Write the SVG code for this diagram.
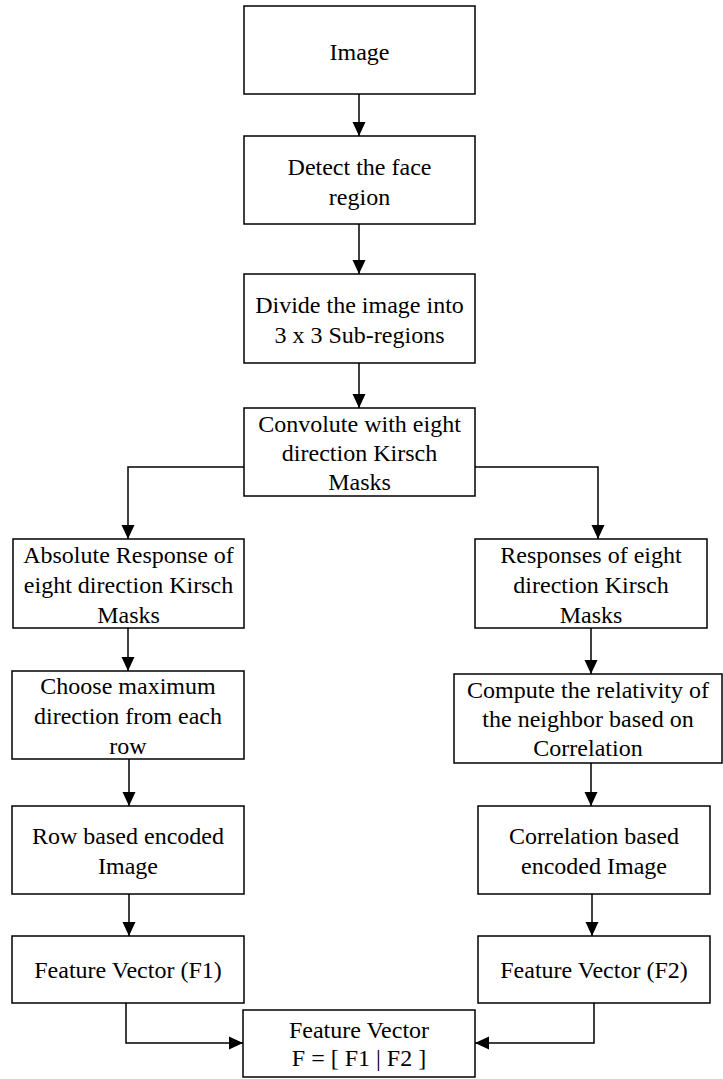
<svg xmlns="http://www.w3.org/2000/svg" width="723" height="1079" viewBox="0 0 723 1079">
<style>
.box{fill:#fff;stroke:#000;stroke-width:1.5}
.t{font-family:"Liberation Serif","Times New Roman",serif;font-size:24px;fill:#000;text-anchor:middle}
.c{fill:none;stroke:#000;stroke-width:1.5}
</style>
<defs>
<marker id="ah" markerUnits="userSpaceOnUse" markerWidth="14" markerHeight="14" viewBox="0 0 14 14" refX="14" refY="7" orient="auto">
<path d="M0,0.5 L14,7 L0,13.5 Z" fill="#000"/>
</marker>
</defs>
<rect width="723" height="1079" fill="#fff"/>
<g id="connectors">
<line class="c" x1="359" y1="94" x2="359" y2="136" marker-end="url(#ah)"/>
<line class="c" x1="359" y1="224" x2="359" y2="274" marker-end="url(#ah)"/>
<line class="c" x1="359" y1="363" x2="359" y2="408" marker-end="url(#ah)"/>
<polyline class="c" points="244,467 128,467 128,539" marker-end="url(#ah)"/>
<polyline class="c" points="475,467 598,467 598,539" marker-end="url(#ah)"/>
<line class="c" x1="128" y1="628" x2="128" y2="671" marker-end="url(#ah)"/>
<line class="c" x1="591" y1="628" x2="591" y2="674" marker-end="url(#ah)"/>
<line class="c" x1="129" y1="759" x2="129" y2="806" marker-end="url(#ah)"/>
<line class="c" x1="591" y1="763" x2="591" y2="806" marker-end="url(#ah)"/>
<line class="c" x1="129" y1="894" x2="129" y2="936" marker-end="url(#ah)"/>
<line class="c" x1="592" y1="894" x2="592" y2="936" marker-end="url(#ah)"/>
<polyline class="c" points="126,1003 126,1043 243,1043" marker-end="url(#ah)"/>
<polyline class="c" points="594,1003 594,1043 475,1043" marker-end="url(#ah)"/>
</g>
<g id="n_image">
<rect class="box" x="244" y="6" width="231" height="88"/>
<text class="t" x="359.5" y="60">Image</text>
</g>
<g id="n_detect">
<rect class="box" x="244" y="136" width="231" height="88"/>
<text class="t" x="359.5" y="175">Detect the face</text>
<text class="t" x="359.5" y="205">region</text>
</g>
<g id="n_divide">
<rect class="box" x="244" y="274" width="231" height="89"/>
<text class="t" x="359.5" y="313">Divide the image into</text>
<text class="t" x="359.5" y="343">3 x 3 Sub-regions</text>
</g>
<g id="n_convolute">
<rect class="box" x="244" y="408" width="231" height="88"/>
<text class="t" x="359.5" y="432">Convolute with eight</text>
<text class="t" x="359.5" y="461">direction Kirsch</text>
<text class="t" x="359.5" y="490">Masks</text>
</g>
<g id="n_absolute">
<rect class="box" x="13" y="539" width="231" height="89"/>
<text class="t" x="128.5" y="563">Absolute Response of</text>
<text class="t" x="128.5" y="593">eight direction Kirsch</text>
<text class="t" x="128.5" y="623">Masks</text>
</g>
<g id="n_responses">
<rect class="box" x="475" y="539" width="232" height="89"/>
<text class="t" x="591" y="563">Responses of eight</text>
<text class="t" x="591" y="593">direction Kirsch</text>
<text class="t" x="591" y="623">Masks</text>
</g>
<g id="n_choose">
<rect class="box" x="12" y="671" width="232" height="88"/>
<text class="t" x="128" y="694">Choose maximum</text>
<text class="t" x="128" y="724">direction from each</text>
<text class="t" x="128" y="754">row</text>
</g>
<g id="n_compute">
<rect class="box" x="454" y="674" width="268" height="89"/>
<text class="t" x="588" y="698">Compute the relativity of</text>
<text class="t" x="588" y="727">the neighbor based on</text>
<text class="t" x="588" y="756">Correlation</text>
</g>
<g id="n_row">
<rect class="box" x="12" y="806" width="232" height="88"/>
<text class="t" x="128" y="844">Row based encoded</text>
<text class="t" x="128" y="874">Image</text>
</g>
<g id="n_corr">
<rect class="box" x="478" y="806" width="232" height="88"/>
<text class="t" x="594" y="844">Correlation based</text>
<text class="t" x="594" y="874">encoded Image</text>
</g>
<g id="n_f1">
<rect class="box" x="12" y="936" width="232" height="67"/>
<text class="t" x="128" y="978">Feature Vector (F1)</text>
</g>
<g id="n_f2">
<rect class="box" x="478" y="936" width="232" height="67"/>
<text class="t" x="594" y="978">Feature Vector (F2)</text>
</g>
<g id="n_final">
<rect class="box" x="243" y="1010" width="232" height="67"/>
<text class="t" x="359" y="1038">Feature Vector</text>
<text class="t" x="359" y="1066">F = [ F1 | F2 ]</text>
</g>
</svg>
